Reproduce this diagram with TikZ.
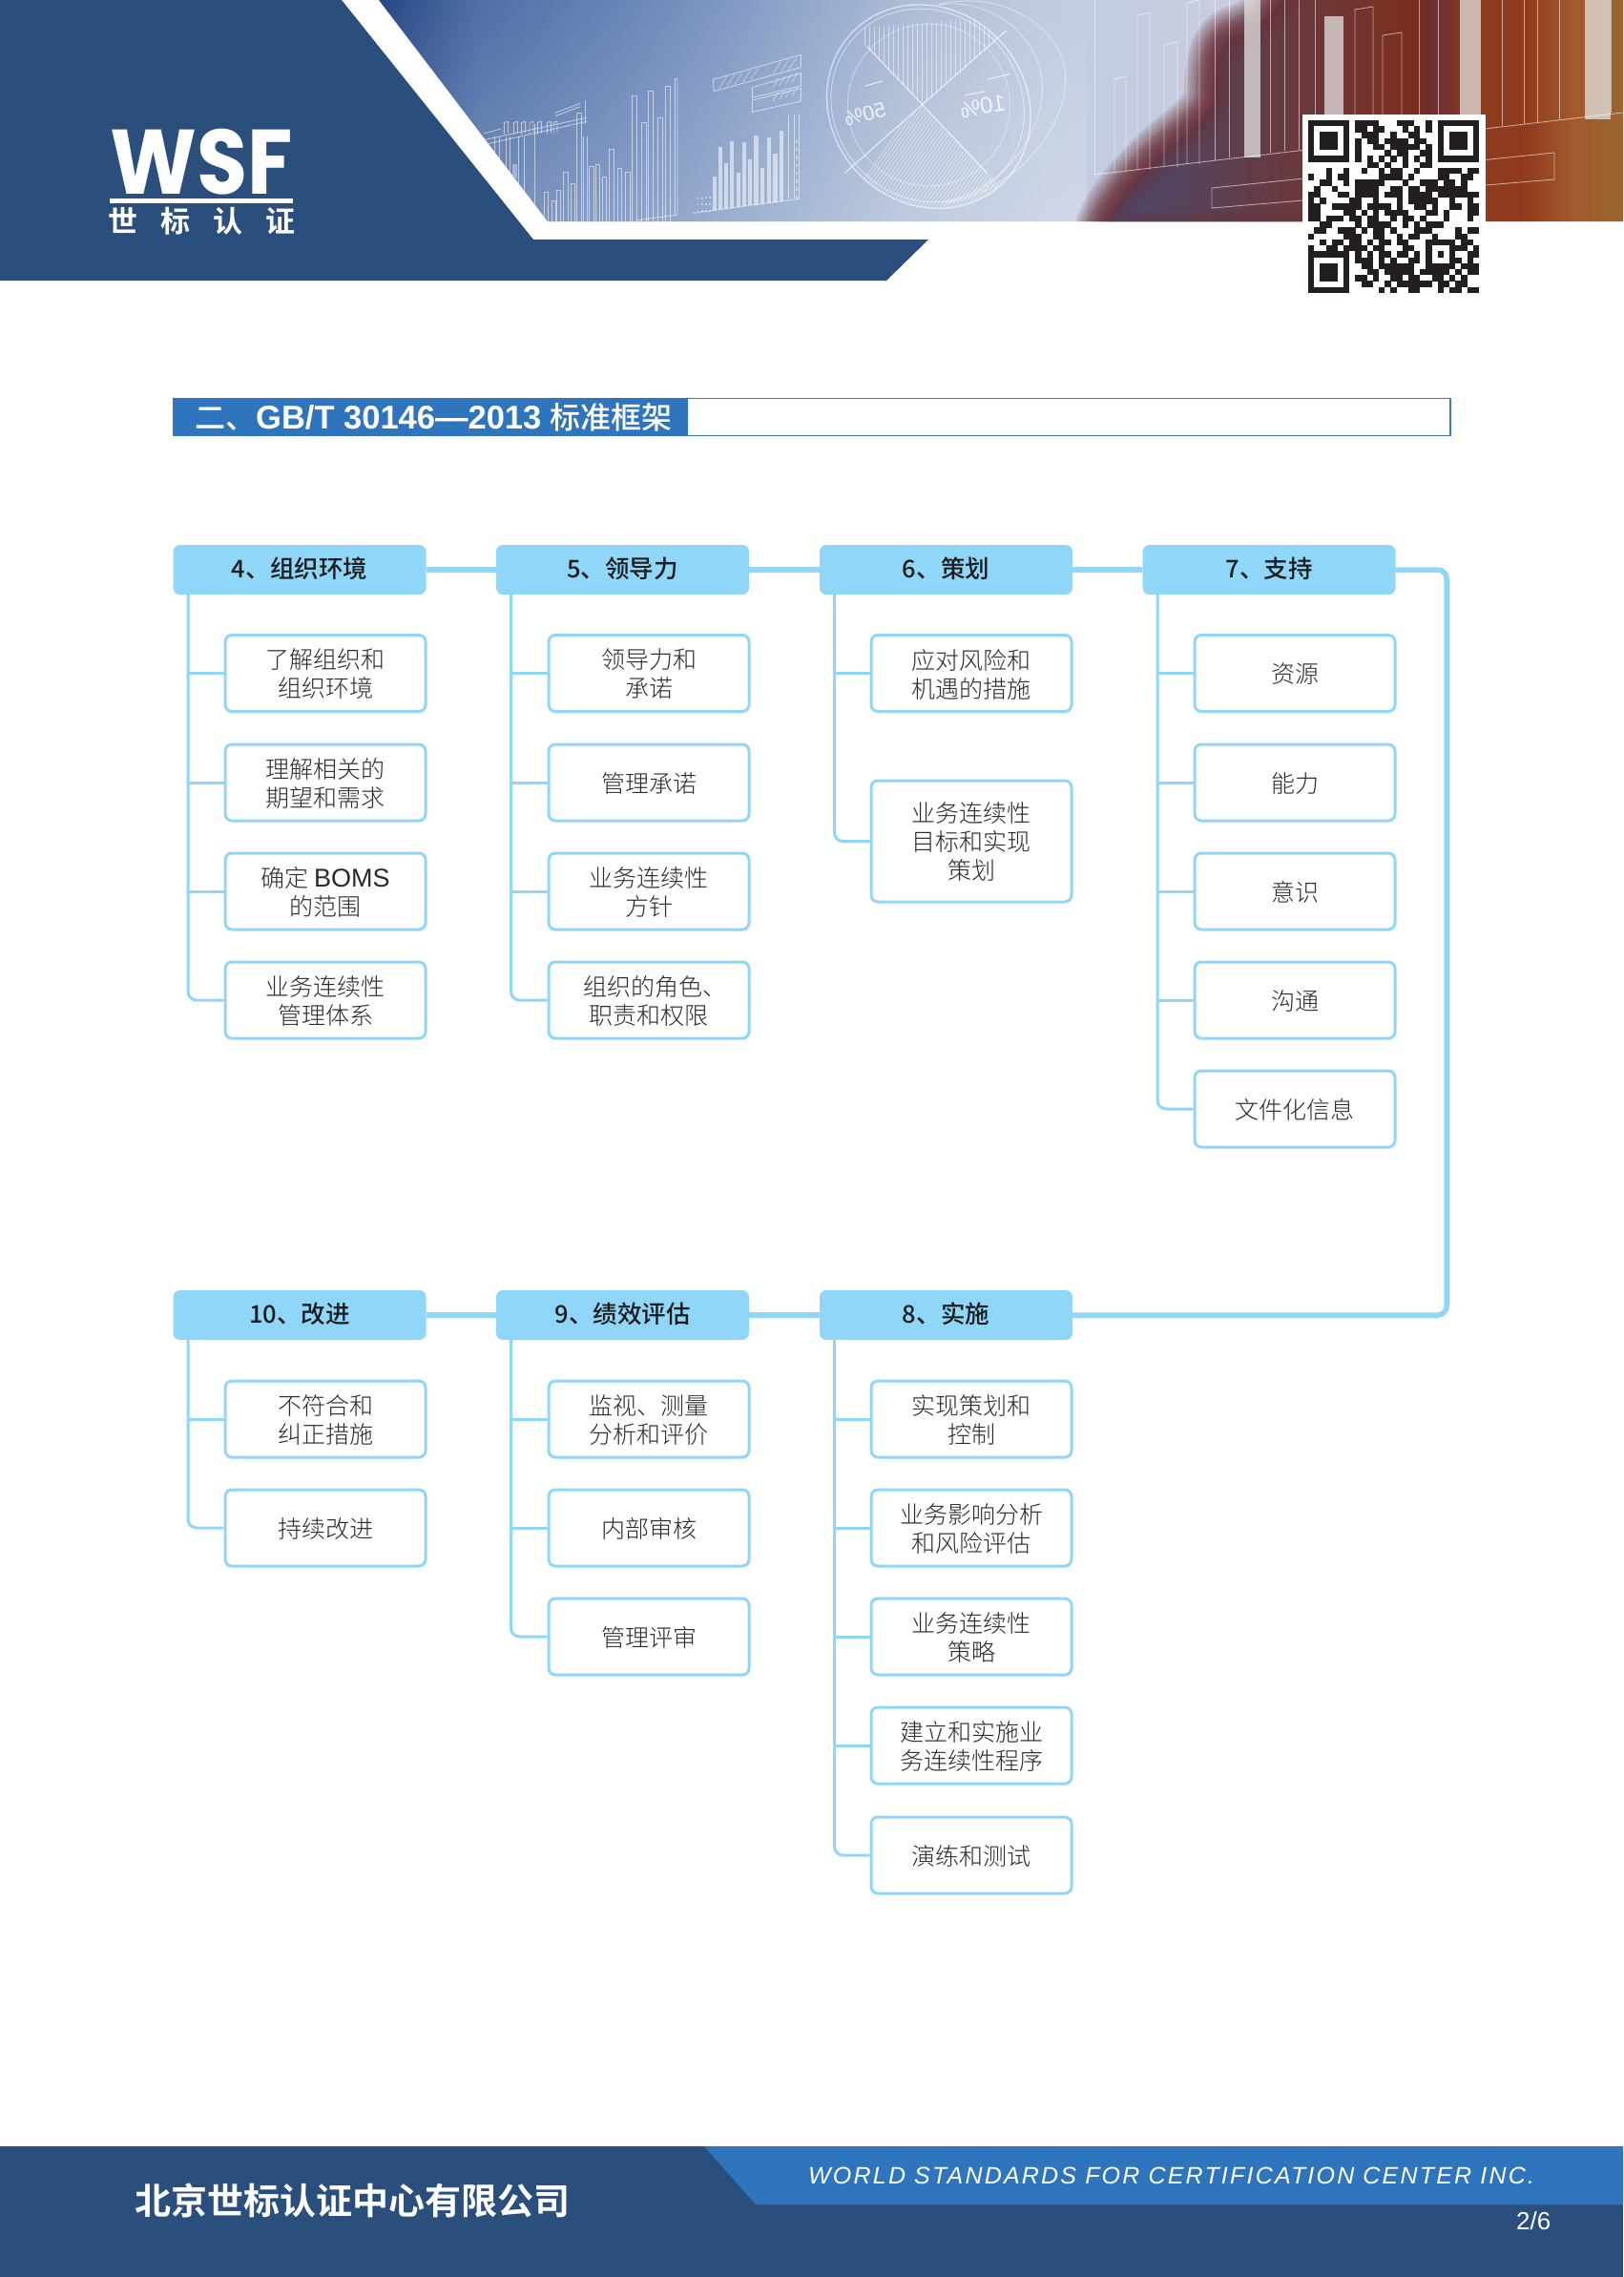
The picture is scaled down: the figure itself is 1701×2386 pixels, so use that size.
\documentclass[tikz,border=0pt]{standalone}
\usepackage{fontspec}
\usetikzlibrary{fadings,calc}
\setmainfont{Noto Sans CJK SC Light}
\newfontfamily\cjkreg{Noto Sans CJK SC}
\newfontfamily\cjkmed{Noto Sans CJK SC Medium}
\newfontfamily\cjkbold{Noto Sans CJK SC Bold}
\newfontfamily\arialbold{Liberation Sans Bold}
\newfontfamily\arialit[LetterSpace=8.8]{Liberation Sans Italic}
\newfontfamily\arialreg{Liberation Sans}
\newfontfamily\logofont[FakeStretch=0.9]{Poppins Bold}
\definecolor{navy}{HTML}{2B4F7D}
\definecolor{midblue}{HTML}{2E75BD}
\definecolor{sky}{HTML}{8FD6F8}
\definecolor{ink}{HTML}{2A2A2A}
\definecolor{inkdark}{HTML}{1C1C1C}
\makeatletter
\newcount\qrc
\newcount\qrr
\def\qrrow#1{\qrc=0 \@tfor\qrch:=#1\do{\if X\qrch
    \fill[qrdark] (\the\qrc,\the\qrr) rectangle +(1.03,1.03);\fi
    \advance\qrc by 1 }\advance\qrr by 1 }
\makeatother
\definecolor{qrdark}{HTML}{231F20}
\definecolor{pa}{HTML}{274786}\definecolor{pb}{HTML}{4F6FA6}\definecolor{pc}{HTML}{6A86B8}
\definecolor{pd}{HTML}{8CA3C9}\definecolor{pe}{HTML}{AFBDD7}\definecolor{pf}{HTML}{C2CCE0}
\definecolor{pg}{HTML}{C9CDDF}\definecolor{ph}{HTML}{B3AEBB}\definecolor{pi}{HTML}{8C3A20}
\definecolor{pj}{HTML}{8F3A1C}\definecolor{pk}{HTML}{A25A2E}\definecolor{pl}{HTML}{97652F}
\definecolor{sa}{HTML}{4A4A70}\definecolor{sb}{HTML}{6B2B25}\definecolor{sc}{HTML}{7F2D18}
\definecolor{sedge}{HTML}{6A3038}
\pgfdeclarehorizontalshading{photobg}{100bp}{
  color(0bp)=(pa); color(25bp)=(pa); color(29bp)=(pb); color(35bp)=(pc); color(41bp)=(pd);
  color(46.5bp)=(pe); color(52bp)=(pf); color(60bp)=(pg); color(65bp)=(ph); color(68bp)=(pi);
  color(71bp)=(pj); color(73bp)=(pk); color(75bp)=(pl); color(100bp)=(pl)}
\tikzset{
  headbox/.style={fill=sky,rounded corners=7pt,minimum width=265pt,minimum height=52pt,inner sep=0pt,
    text depth=5pt,text=inkdark,font=\fontsize{25.5}{30}\cjkmed\selectfont},
  subbox/.style={draw=sky,fill=white,line width=3pt,rounded corners=7pt,minimum width=210pt,minimum height=80pt,
    inner sep=0pt,align=center,text depth=0pt,text=ink,font=\fontsize{25}{30}\selectfont},
  linkline/.style={draw=sky,line width=5.5pt},
  branch/.style={draw=sky,line width=3pt},
  trunkline/.style={draw=sky,line width=3pt,rounded corners=9pt},
  pline/.style={draw=white,line width=.9pt,opacity=.55},
  pbar/.style={fill=white,opacity=.55}
}
\newcommand{\trunk}[3]{%
  \foreach \sb [count=\ii] in {#3}{\draw[branch] (\sb.west) -- (\sb.west -| #2);}
}
\begin{document}
\begin{tikzpicture}[x=1pt,y=-1pt]
\useasboundingbox (0,0) rectangle (1701,2386);
\fill[white] (0,0) rectangle (1701,2386);
% photo band
\begin{scope}
\clip (397,0) -- (574,232) -- (1701,232) -- (1701,0) -- cycle;
\shade[shading=photobg] (397,0) rectangle (1701,232);
\fill[white,path fading=north,opacity=.22] (397,0) rectangle (1140,232);
% silhouette
\def\silh{(1349,-20) .. controls (1340,15) and (1320,30) .. (1295,38) .. controls (1277,44) and (1273,70) .. (1273,100) .. controls (1270,125) and (1240,140) .. (1212,167) .. controls (1190,190) and (1170,210) .. (1158,240) -- (1500,240) -- (1500,-20) -- cycle}
\foreach \w in {64,58,52,46,40,34,28,22,16,10,4}{\draw[draw=sedge,opacity=.15,line width=\w pt,line join=round] \silh;}
\shade[left color=sa,middle color=sb,right color=sc] \silh;
\foreach \w in {40,32,24,16,8}{\draw[draw=sedge,opacity=.14,line width=\w pt,line join=round] \silh;}
% pale bars at right
\foreach \xa/\xb/\ya/\yb in {1304/1321/-5/165,1388/1408/17/125,1530/1552/-5/125,1661/1688/-5/125}
  {\fill[white!78!gray,opacity=.75] (\xa,\ya) rectangle (\xb,\yb);}
% outline bars at right
\foreach \xa/\xb/\ya/\yb in {1168/1180/83/180,1192/1205/16/178,1220/1234/47/175,1244/1257/3/172,1420/1439/10/140,1449/1469/37/140}
  {\draw[pline] (\xa,\yb) -- (\xa,\ya) -- (\xb,\ya-3) -- (\xb,\yb);}
\foreach \xa/\yb in {1147/183,1273/168,1288/165,1331/160,1346/158,1361/157,1378/155,1487/140,1507/138,1574/132,1597/130,1611/128,1634/125,1688/118}
  {\draw[pline] (\xa,-5) -- (\xa,\yb);}
\draw[pline] (1147,183) -- (1701,118);
\draw[pline] (1270,197) -- (1270,218) -- (1629,188) -- (1629,160) -- cycle;
% left chart (zoom coordinates)
\begin{scope}[shift={(500,40)},x=.3333pt,y=-.3333pt]
\foreach \xa/\xb/\ya in {212/224/485,234/246/510,250/263/478,272/285/420,295/308/458,312/327/235,352/367/403,373/386/398,393/407/436,415/430/350,442/455/408,467/482/422,488/503/180,517/532/265,538/553/165,568/584/250,592/607/150}
  {\draw[pline] (\xa,590) -- (\xa,\ya) -- (\xb,\ya) -- (\xb,590);}
\draw[pline] (622,560) -- (622,128) -- (630,128) -- (630,555) -- (500,573);
\draw[pline] (180,270) -- (180,590);
\foreach \xa in {148,130,103,92,70,55,345,335}{\draw[pline] (\xa,310) -- (\xa,590);}
\draw[pline] (20,320) -- (345,250);\draw[pline] (20,335) -- (345,262);\draw[pline] (20,300) -- (75,285);
\draw[pline] (245,235) -- (325,205);\draw[pline] (245,245) -- (325,215);
\foreach \xa in {85,115,140,165,190,220,240}{\draw[pline] (\xa,302) -- (\xa,265) -- (\xa+12,262) -- (\xa+12,298);}
\fill[white,opacity=.35] (112,395) rectangle (125,440);
\draw[pline] (340,195) -- (340,270);
\foreach \xa/\xb/\ya/\yb in {742/753/435/540,760/772/343/538,778/790/393/536,796/807/323/534,815/827/422/530,834/846/327/528,853/865/380/526,871/885/307/524,891/904/408/522,911/924/311/518,931/945/364/516,951/964/291/512}
  {\fill[pbar] (\xa,\ya) rectangle (\xb,\yb);}
\draw[pline] (680,550) -- (1015,505);
\draw[pline] (978,505) -- (978,242); \draw[pline] (1012,505) -- (1012,238); \draw[pline] (997,505) -- (997,240);
\foreach \yy in {320,345,370,395,420,445,470,495}{\fill[white,opacity=.4] (1002,\yy) rectangle (1007,\yy+10);}
\foreach \xa in {692,705,718,730}{\foreach \yy in {500,520,540}{\fill[white,opacity=.45] (\xa,{\yy-\xa*.04+28}) rectangle +(5,6);}}
\draw[pline] (742,130) -- (1018,52) -- (1018,92) -- (745,167) -- cycle;
\draw[pline] (865,155) -- (1018,110) -- (1018,150) -- (865,187) -- cycle;
\draw[pline] (865,195) -- (1018,158) -- (1018,198) -- (865,232) -- cycle;
\foreach \xa in {760,785,810,835,860,930,955,980}{\draw[pline,opacity=.4] (\xa,{163-(\xa-742)*.27}) -- ({\xa+25},{126-(\xa-742)*.27});}
\foreach \xa in {930,950,970,990}{\draw[pline,opacity=.4] (\xa,{175-(\xa-865)*.29}) -- ({\xa+18},{145-(\xa-865)*.29});
   \draw[pline,opacity=.4] (\xa,{215-(\xa-865)*.27}) -- ({\xa+18},{187-(\xa-865)*.27});}
\end{scope}
% pie (zoom coordinates)
\begin{scope}[shift={(840,0)},x=.3333pt,y=-.3333pt]
\draw[white,opacity=.6,line width=1.3pt,rotate around={-45:(400,335)}] (400,335) ellipse [x radius=335,y radius=305];
\draw[white,opacity=.5,line width=.9pt,rotate around={-45:(400,335)}] (395,335) ellipse [x radius=315,y radius=292];
\draw[white,opacity=.4,line width=.9pt] (400,330) circle [radius=255];
\draw[white,opacity=.45,line width=.9pt] (430,15) .. controls (640,-40) and (830,100) .. (830,240) .. controls (835,420) and (650,610) .. (450,640);
\draw[white,opacity=.45,line width=.9pt] (430,15) .. controls (600,-10) and (755,120) .. (757,270) .. controls (760,420) and (640,590) .. (450,635);
\draw[white,opacity=.7,line width=1.1pt] (205,145) -- (585,545);
\draw[white,opacity=.7,line width=1.1pt] (645,95) -- (135,545);
\begin{scope}
\clip[rotate around={-45:(400,335)}] (400,335) ellipse [x radius=335,y radius=305];
\begin{scope}
\clip (380,330) -- (150,90) -- (700,50) -- cycle;
\foreach \xa in {200,215,...,660}{\draw[white,opacity=.5,line width=.7pt] (\xa,0) -- (\xa,340);}
\end{scope}
\begin{scope}
\clip (380,330) -- (620,580) -- (560,700) -- (100,700) -- (90,590) -- cycle;
\foreach \xa in {100,112,...,640}{\draw[white,opacity=.5,line width=.7pt] (\xa,700) -- ({\xa+260},330);}
\end{scope}
\end{scope}
\node[white,opacity=.8,transform shape,xscale=-1,rotate=-15,font=\fontsize{22}{22}\arialreg\selectfont] (pct50) at (200,360) {50\%};
\node[white,opacity=.8,transform shape,xscale=-1,rotate=-10,font=\fontsize{24}{24}\arialreg\selectfont] (pct10) at (570,335) {10\%};
\draw[white,opacity=.7,line width=1.1pt] (200,270) -- (255,255);
\draw[white,opacity=.7,line width=1.1pt] (512,300) -- (578,287);
\draw[white,opacity=.7,line width=1.1pt] (585,250) -- (655,232);
\end{scope}
\end{scope}
% dark header shape
\fill[navy] (0,0) -- (358,0) -- (559,251) -- (973,251) -- (929,294) -- (0,294) -- cycle;
% logo
\node[white,inner sep=0pt,font=\fontsize{96}{96}\logofont\selectfont] (logo) at (211.5,169.5) {WSF};
\fill[white] (115,208) rectangle (307,213);
\node[white,inner sep=0pt,font=\fontsize{31}{31}\cjkbold\selectfont] (logocn) at (211.5,231.5) {世\hspace{24pt}标\hspace{24pt}认\hspace{24pt}证};
% QR
\fill[white] (1365,120) rectangle (1557,310);
\begin{scope}[shift={(1371,126)},x=6.17pt,y=-6.24pt]
\qrr=0
\qrrow{XXXXXXX.XXXX...XXX..X.XXXXXXX}
\qrrow{X.....X.XX.XX...X.X.X.X.....X}
\qrrow{X.XXX.X..XXX..X..XX...X.XXX.X}
\qrrow{X.XXX.X.X.XX.XXXX.XX..X.XXX.X}
\qrrow{X.XXX.X.X..XX.XXXXX.X.X.XXX.X}
\qrrow{X.....X.X....X.XX..XX.X.....X}
\qrrow{XXXXXXX.X.X.X.X.X.X.X.XXXXXXX}
\qrrow{..........XX.X..X..XX........}
\qrrow{...X..X..X..X.XX..X...XXXX.XX}
\qrrow{X..X.XX.....XXXX.X....XX..XX.}
\qrrow{..XX..X.XXXXX...X..XXX.XX.X..}
\qrrow{.X..X...XXXX..XX.XX.XXXXXXX..}
\qrrow{XX...XX.XXXX.XXX.XXXX.XXXXXXX}
\qrrow{X.X....XX..X...X.XXXXX..X..X.}
\qrrow{XX..XXXXX.XXXX.X..XX.X..XX.XX}
\qrrow{XX....XX.X.X.XXXX...XX.X...XX}
\qrrow{XX.XXX.XX.XX..X.XX.X...X...X.}
\qrrow{..XX....X.XXXX..X.X.XXX......}
\qrrow{.XX..XXX.X.XX.X...XXX....X.XX}
\qrrow{X.....XXX..XX..X.XX..X...XX..}
\qrrow{..X.XX.XX.X.XX.XX...XXXXX.XX.}
\qrrow{X..XX.XXXX.XX...XX..X...XXX.X}
\qrrow{XXXXXXX.X.X.XX.XX.X.X.X.X..XX}
\qrrow{X.....X.XXX.X.X..XX.X...XX.X.}
\qrrow{X.XXX.X..XX.XXXXXX..XXXXX.XXX}
\qrrow{X.XXX.X...XX.XXXXX.XXXXX.X.XX}
\qrrow{X.XXX.X.XX.X..XX.XX..XX.X.X..}
\qrrow{X.....X..XX..X.XXXXXX.XX.XX..}
\qrrow{XXXXXXX.....X.X..XX...X.XX.XX}
\end{scope}
% heading
\draw[midblue!80!gray,line width=1.5pt] (182,417.7) rectangle (1520,456.3);
\fill[midblue] (181.5,417) rectangle (721,457);
\node[white,inner sep=0pt,anchor=west,font=\fontsize{32}{36}\selectfont] (title) at (204,437) {{\cjkmed 二、}{\fontsize{34.5}{36}\arialbold\selectfont GB/T 30146—2013 }{\cjkmed 标准框架}};
% heads
\node[headbox] (h4) at (314,597) {4、组织环境};
\node[headbox] (h5) at (652.5,597) {5、领导力};
\node[headbox] (h6) at (991.5,597) {6、策划};
\node[headbox] (h7) at (1330,597) {7、支持};
\node[headbox] (h8) at (991.5,1378) {8、实施};
\node[headbox] (h9) at (652.5,1378) {9、绩效评估};
\node[headbox] (h10) at (314,1378) {10、改进};
% subs row 1
\node[subbox] (a1) at (341,705.5) {了解组织和\\组织环境};
\node[subbox] (a2) at (341,820) {理解相关的\\期望和需求};
\node[subbox] (a3) at (341,934) {确定 {\fontsize{27}{30}\arialreg\selectfont BOMS}\\的范围};
\node[subbox] (a4) at (341,1048) {业务连续性\\管理体系};
\node[subbox] (b1) at (680,705.5) {领导力和\\承诺};
\node[subbox] (b2) at (680,820) {管理承诺};
\node[subbox] (b3) at (680,934) {业务连续性\\方针};
\node[subbox] (b4) at (680,1048) {\hspace*{12pt}组织的角色、\\职责和权限};
\node[subbox] (c1) at (1018,705.5) {应对风险和\\机遇的措施};
\node[subbox,minimum height=127pt] (c2) at (1018,881.5) {业务连续性\\目标和实现\\策划};
\node[subbox] (d1) at (1357,705.5) {资源};
\node[subbox] (d2) at (1357,820) {能力};
\node[subbox] (d3) at (1357,934) {意识};
\node[subbox] (d4) at (1357,1048) {沟通};
\node[subbox] (d5) at (1357,1162) {文件化信息};
% subs row 2
\node[subbox] (e1) at (1018,1487) {实现策划和\\控制};
\node[subbox] (e2) at (1018,1601) {业务影响分析\\和风险评估};
\node[subbox] (e3) at (1018,1715) {业务连续性\\策略};
\node[subbox] (e4) at (1018,1829) {建立和实施业\\务连续性程序};
\node[subbox] (e5) at (1018,1944) {演练和测试};
\node[subbox] (f1) at (680,1487) {监视、测量\\分析和评价};
\node[subbox] (f2) at (680,1601) {内部审核};
\node[subbox] (f3) at (680,1715) {管理评审};
\node[subbox] (g1) at (341,1487) {不符合和\\纠正措施};
\node[subbox] (g2) at (341,1601) {持续改进};
% head links
\draw[linkline] (h4) -- (h5);
\draw[linkline] (h5) -- (h6);
\draw[linkline] (h6) -- (h7);
\draw[linkline] (h10) -- (h9);
\draw[linkline] (h9) -- (h8);
\coordinate (bendA) at (1516,597);
\coordinate (bendB) at (1516,1378);
\draw[linkline,rounded corners=9pt] (h7.east) -- (bendA) -- (bendB) -- (h8.east);
% trunks
\coordinate (t4) at (197,597);
\coordinate (t5) at (535.5,597);
\coordinate (t6) at (874.5,597);
\coordinate (t7) at (1213,597);
\coordinate (t8) at (874.5,1378);
\coordinate (t9) at (535.5,1378);
\coordinate (t10) at (197,1378);
\trunk{h4}{t4}{a1,a2,a3}
\trunk{h5}{t5}{b1,b2,b3}
\trunk{h6}{t6}{c1}
\trunk{h7}{t7}{d1,d2,d3,d4}
\trunk{h8}{t8}{e1,e2,e3,e4}
\trunk{h9}{t9}{f1,f2}
\trunk{h10}{t10}{g1}
\draw[trunkline] (h4.south -| t4) |- (a4.west);
\draw[trunkline] (h5.south -| t5) |- (b4.west);
\draw[trunkline] (h6.south -| t6) |- (c2.west);
\draw[trunkline] (h7.south -| t7) |- (d5.west);
\draw[trunkline] (h8.south -| t8) |- (e5.west);
\draw[trunkline] (h9.south -| t9) |- (f3.west);
\draw[trunkline] (h10.south -| t10) |- (g2.west);
% footer
\fill[navy] (0,2249) rectangle (1701,2386);
\fill[midblue] (738,2249) -- (1701,2249) -- (1701,2310) -- (792,2310) -- cycle;
\node[white,inner sep=0pt,anchor=west,font=\fontsize{25}{25}\arialit\selectfont] (wsf) at (847,2280) {WORLD STANDARDS FOR CERTIFICATION CENTER INC.};
\node[white,inner sep=0pt,anchor=west,font=\fontsize{38}{38}\cjkbold\selectfont] (cn) at (141,2306) {北京世标认证中心有限公司};
\node[white,inner sep=0pt,anchor=west,font=\fontsize{26}{26}\arialreg\selectfont] (page) at (1589,2327) {2/6};
\end{tikzpicture}
\end{document}
